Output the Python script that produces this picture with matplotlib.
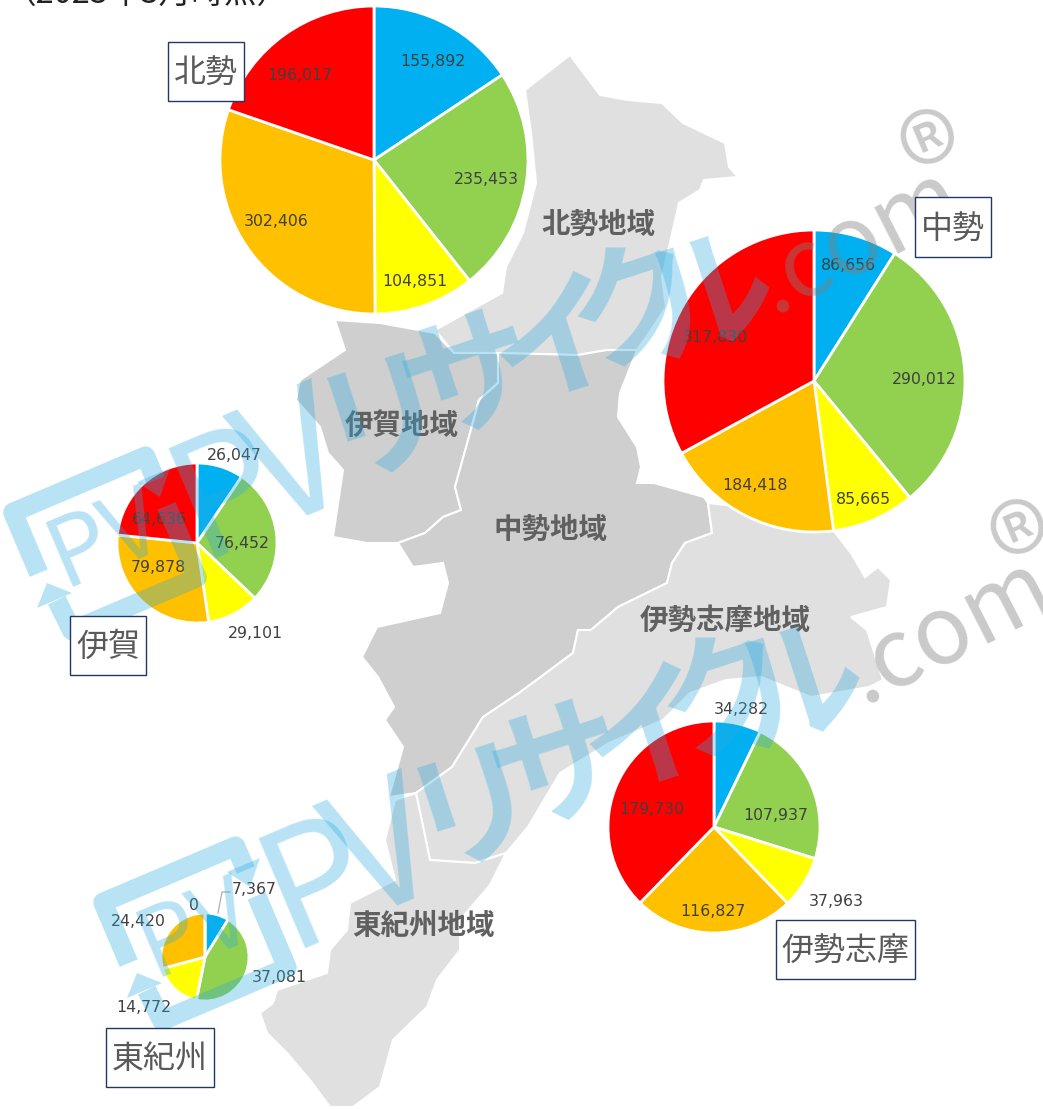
import numpy as np
import matplotlib
matplotlib.use("Agg")
import matplotlib.pyplot as plt
from matplotlib.patches import Polygon

W, H = 1043, 1109
JP = ['Noto Sans CJK JP', 'DejaVu Sans']

# 区分: 青, 緑, 黄, 橙, 赤 の順 (時計回り)
colors = ['#00B0F0', '#92D050', '#FFFF00', '#FFC000', '#FF0000']
hokusei = [155892, 235453, 104851, 302406, 196017]
chusei = [86656, 290012, 85665, 184418, 317830]
iga = [26047, 76452, 29101, 79878, 64636]
iseshima = [34282, 107937, 37963, 116827, 179730]
higashikishu = [7367, 37081, 14772, 24420, 0]

region_names = ['北勢地域', '伊賀地域', '中勢地域', '伊勢志摩地域', '東紀州地域']


def Y(y):
    return H - y


fig = plt.figure(figsize=(W / 100, H / 100), dpi=100)
ax = fig.add_axes([0, 0, 1, 1])


def region(pts, color):
    pts = np.array(pts, dtype=float)
    pts[:, 1] = H - pts[:, 1]
    ax.add_patch(Polygon(pts, closed=True, fc=color, ec='white', lw=1.5, zorder=1))


# 地図の背景
LIGHT = '#E0E0E0'
DARK = '#CFCFCF'
region([(435, 330), (502, 293), (506, 267), (523, 233), (536, 183), (531, 133), (525, 90), (570, 55), (600, 95),
        (628, 100), (662, 103), (683, 123), (725, 143), (729, 167), (738, 177), (704, 180), (700, 190), (679, 203),
        (670, 243), (662, 277), (666, 307), (649, 333), (637, 350), (607, 350), (578, 355), (498, 353), (454, 353)],
       LIGHT)
region([(335, 320), (380, 323), (435, 333), (454, 353), (498, 353), (498, 383), (479, 400), (470, 433), (455, 487),
        (461, 510), (443, 517), (425, 533), (398, 543), (367, 543), (333, 537), (343, 470), (328, 453), (320, 427),
        (296, 400), (300, 380), (345, 350)], DARK)
region([(498, 353), (578, 355), (607, 350), (637, 350), (620, 393), (618, 417), (637, 447), (641, 467), (637, 483),
        (654, 483), (704, 497), (708, 503), (712, 533), (685, 543), (672, 563), (667, 583), (618, 607), (591, 630),
        (578, 630), (573, 653), (519, 693), (483, 717), (452, 767), (416, 793), (389, 797), (403, 747), (385, 720),
        (394, 707), (378, 677), (362, 657), (377, 627), (440, 613), (448, 583), (443, 563), (413, 567), (398, 543),
        (425, 533), (443, 517), (461, 510), (455, 487), (470, 433), (479, 400), (498, 383)], DARK)
region([(708, 503), (770, 510), (833, 530), (851, 553), (865, 577), (878, 567), (891, 580), (887, 607), (851, 617),
        (867, 630), (883, 680), (869, 687), (811, 697), (761, 677), (726, 680), (690, 693), (663, 720), (609, 743),
        (560, 773), (528, 827), (506, 853), (475, 863), (430, 860), (416, 793), (452, 767), (483, 717), (519, 693),
        (573, 653), (578, 630), (591, 630), (618, 607), (667, 583), (672, 563), (685, 543), (712, 533)], LIGHT)
region([(395, 800), (416, 793), (430, 860), (475, 863), (506, 853), (490, 885), (460, 920), (460, 950), (437, 980),
        (427, 1007), (393, 1040), (380, 1087), (353, 1107), (330, 1107), (310, 1080), (287, 1053), (267, 1033),
        (260, 1013), (273, 1003), (277, 990), (327, 973), (330, 950), (347, 930), (350, 903), (395, 880), (385, 840)],
       LIGHT)

region_pos = [(598, 225), (402, 426), (550, 530), (725, 621), (423, 926)]
for name, (x, y) in zip(region_names, region_pos):
    ax.text(x, Y(y), name, family=JP, fontsize=20.5, fontweight='bold', color='#606060',
            ha='center', va='center', zorder=2)


def draw_pie(values, cx, cy, r):
    ax.pie(values, colors=colors, center=(cx, Y(cy)), radius=r, startangle=90, counterclock=False,
           wedgeprops={'edgecolor': 'white', 'linewidth': 2, 'zorder': 3})


def value_labels(values, positions):
    for v, (x, y) in zip(values, positions):
        ax.text(x, Y(y), f'{v:,}', fontsize=11.3, color='#404040', ha='center', va='center', zorder=4)


draw_pie(hokusei, 374, 160, 154)
draw_pie(chusei, 814, 381, 151)
draw_pie(iga, 197, 543, 80)
draw_pie(iseshima, 714, 827, 106)
draw_pie(higashikishu, 205, 957, 44)
value_labels(hokusei, [(433, 61), (486, 179), (415, 281), (276, 221), (300, 75)])
value_labels(chusei, [(848, 266), (924, 380), (863, 500), (755, 486), (715, 338)])
value_labels(iga, [(234, 455), (242, 543), (255, 633), (158, 567), (159, 520)])
value_labels(iseshima, [(741, 709), (776, 815), (836, 901), (713, 912), (652, 810)])
value_labels(higashikishu, [(254, 889), (279, 978), (144, 1007), (138, 921), (194, 905)])
ax.plot([218, 222, 230], [Y(913), Y(892), Y(892)], color='#A6A6A6', lw=0.8, zorder=4)

# 透かし
BLUE = '#29ABE2'
GREY = '#808080'
A_BLUE = 0.33
A_GREY = 0.42
ANGLE = 23


def logo_pt(u, v, dx, dy):
    # ロゴ枠のローカル座標 (u:右, v:下) を回転してピクセルへ
    t = np.radians(ANGLE)
    x = 105 + u * np.cos(t) + v * np.sin(t)
    y = 545 - u * np.sin(t) + v * np.cos(t)
    return x + dx, Y(y + dy)


def watermark(dx, dy):
    hw, hh = 72, 66
    upper = [(-hw, 0), (-hw, -hh), (hw, -hh), (hw, -40)]
    lower = [(hw, -12), (hw, hh), (-hw + 8, hh), (-66, 32)]
    for seg in (upper, lower):
        xy = np.array([logo_pt(u, v, dx, dy) for u, v in seg])
        ax.plot(xy[:, 0], xy[:, 1], color=BLUE, alpha=A_BLUE, lw=14, solid_joinstyle='round',
                solid_capstyle='butt', zorder=5)
    # 矢印の先
    for tip in ([(47, 583), (37, 608), (72, 593)], [(170, 468), (137, 482), (160, 497)]):
        xy = [(x + dx, Y(y + dy)) for x, y in tip]
        ax.add_patch(Polygon(xy, closed=True, fc=BLUE, ec='none', alpha=A_BLUE, zorder=5))
    ax.text(105 + dx, Y(540 + dy), 'PV', family=JP, fontsize=68, color=BLUE, alpha=A_BLUE, rotation=ANGLE,
            rotation_mode='anchor', ha='center', va='center', zorder=5)
    # 大きい文字
    for c, x, y, fs in zip(['P', 'V'], [228, 297], [495, 467], [118, 122]):
        ax.text(x + dx, Y(y + dy), c, family=JP, fontsize=fs, color=BLUE, alpha=A_BLUE, rotation=ANGLE,
                rotation_mode='anchor', ha='center', va='center', zorder=5)
    for c, x, y in zip(['リ', 'サ', 'イ', 'ク', 'ル'], [383, 470, 558, 636, 708], [417, 380, 345, 310, 300]):
        ax.text(x + dx, Y(y + dy), c, family=JP, fontsize=96, fontweight='bold', color=BLUE, alpha=A_BLUE,
                rotation=18, rotation_mode='anchor', ha='center', va='center', zorder=5)
    ax.text(858 + dx, Y(240 + dy), '.com', family=JP, fontsize=68, color=GREY, alpha=A_GREY, rotation=27,
            rotation_mode='anchor', ha='center', va='center', zorder=5)
    ax.text(942 + dx, Y(169 + dy), '®', family=JP, fontsize=90, color=GREY, alpha=A_GREY, rotation=ANGLE,
            rotation_mode='anchor', ha='center', va='center', zorder=5)


watermark(0, 0)
watermark(90, 390)

# 地区名の枠
boxes = [('北勢', 206, 71, 76, 59), ('中勢', 953, 227, 76, 60), ('伊賀', 108, 645, 76, 59),
         ('伊勢志摩', 845, 949, 139, 59), ('東紀州', 160, 1057, 108, 59)]
for name, x, y, w, h in boxes:
    ax.add_patch(plt.Rectangle((x - w / 2, Y(y + h / 2)), w, h, fc='white', ec='#1F3864', lw=1, zorder=8))
    ax.text(x, Y(y + 2), name, family=JP, fontsize=23, color='#595959', ha='center', va='center', zorder=9)

ax.text(3, Y(-5), '（2023年3月時点）', family=JP, fontsize=23.5, color='#222222', ha='left', va='center',
        clip_on=False, zorder=9)

ax.set_xlim(0, W)
ax.set_ylim(0, H)
ax.set_aspect('auto')
ax.axis('off')
fig.savefig('out.png', dpi=100)
